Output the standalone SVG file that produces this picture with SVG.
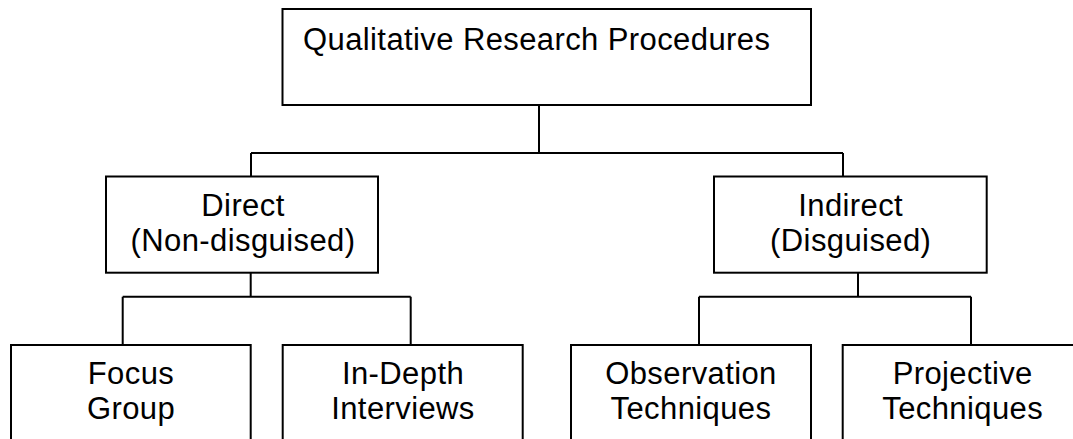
<svg xmlns="http://www.w3.org/2000/svg" width="1073" height="439" viewBox="0 0 1073 439">
  <style>
    .box { fill: #ffffff; stroke: #000000; stroke-width: 2; }
    .link { fill: none; stroke: #000000; stroke-width: 2; }
    .label { font-family: "Liberation Sans", Arial, sans-serif; font-size: 31px; letter-spacing: 0.4px; fill: #000000; text-anchor: middle; }
  </style>
  <rect width="1073" height="439" fill="#ffffff"/>

  <!-- tree connectors -->
  <g id="connectors">
    <path class="link" d="M539 105 V153 M251 153 H843 M251 153 V176.5 M843 153 V176.5"/>
    <path class="link" d="M250.7 272.7 V296.7 M122.7 296.7 H410.7 M122.7 296.7 V345 M410.7 296.7 V345"/>
    <path class="link" d="M858 272.7 V296.7 M699 296.7 H971 M699 296.7 V345 M971 296.7 V345"/>
  </g>

  <g id="node-root">
    <rect class="box" x="282.5" y="9" width="528.5" height="96"/>
    <text class="label" x="303" y="50" style="text-anchor:start">Qualitative Research Procedures</text>
  </g>

  <g id="node-direct">
    <rect class="box" x="106" y="176.5" width="272" height="96.2"/>
    <text class="label" x="243" y="215.5">Direct</text>
    <text class="label" x="243" y="250.5">(Non-disguised)</text>
  </g>

  <g id="node-indirect">
    <rect class="box" x="714" y="176.5" width="272.7" height="96.2"/>
    <text class="label" x="850.7" y="215.5">Indirect</text>
    <text class="label" x="850.7" y="250.5">(Disguised)</text>
  </g>

  <g id="node-focus">
    <rect class="box" x="11" y="345" width="239.7" height="110"/>
    <text class="label" x="131" y="383.5">Focus</text>
    <text class="label" x="131" y="418.5">Group</text>
  </g>

  <g id="node-indepth">
    <rect class="box" x="282.7" y="345" width="240" height="110"/>
    <text class="label" x="403" y="383.5">In-Depth</text>
    <text class="label" x="403" y="418.5">Interviews</text>
  </g>

  <g id="node-observation">
    <rect class="box" x="571" y="345" width="240" height="110"/>
    <text class="label" x="691" y="383.5">Observation</text>
    <text class="label" x="691" y="418.5">Techniques</text>
  </g>

  <g id="node-projective">
    <rect class="box" x="842.7" y="345" width="240" height="110"/>
    <text class="label" x="962.7" y="383.5">Projective</text>
    <text class="label" x="962.7" y="418.5">Techniques</text>
  </g>
</svg>
